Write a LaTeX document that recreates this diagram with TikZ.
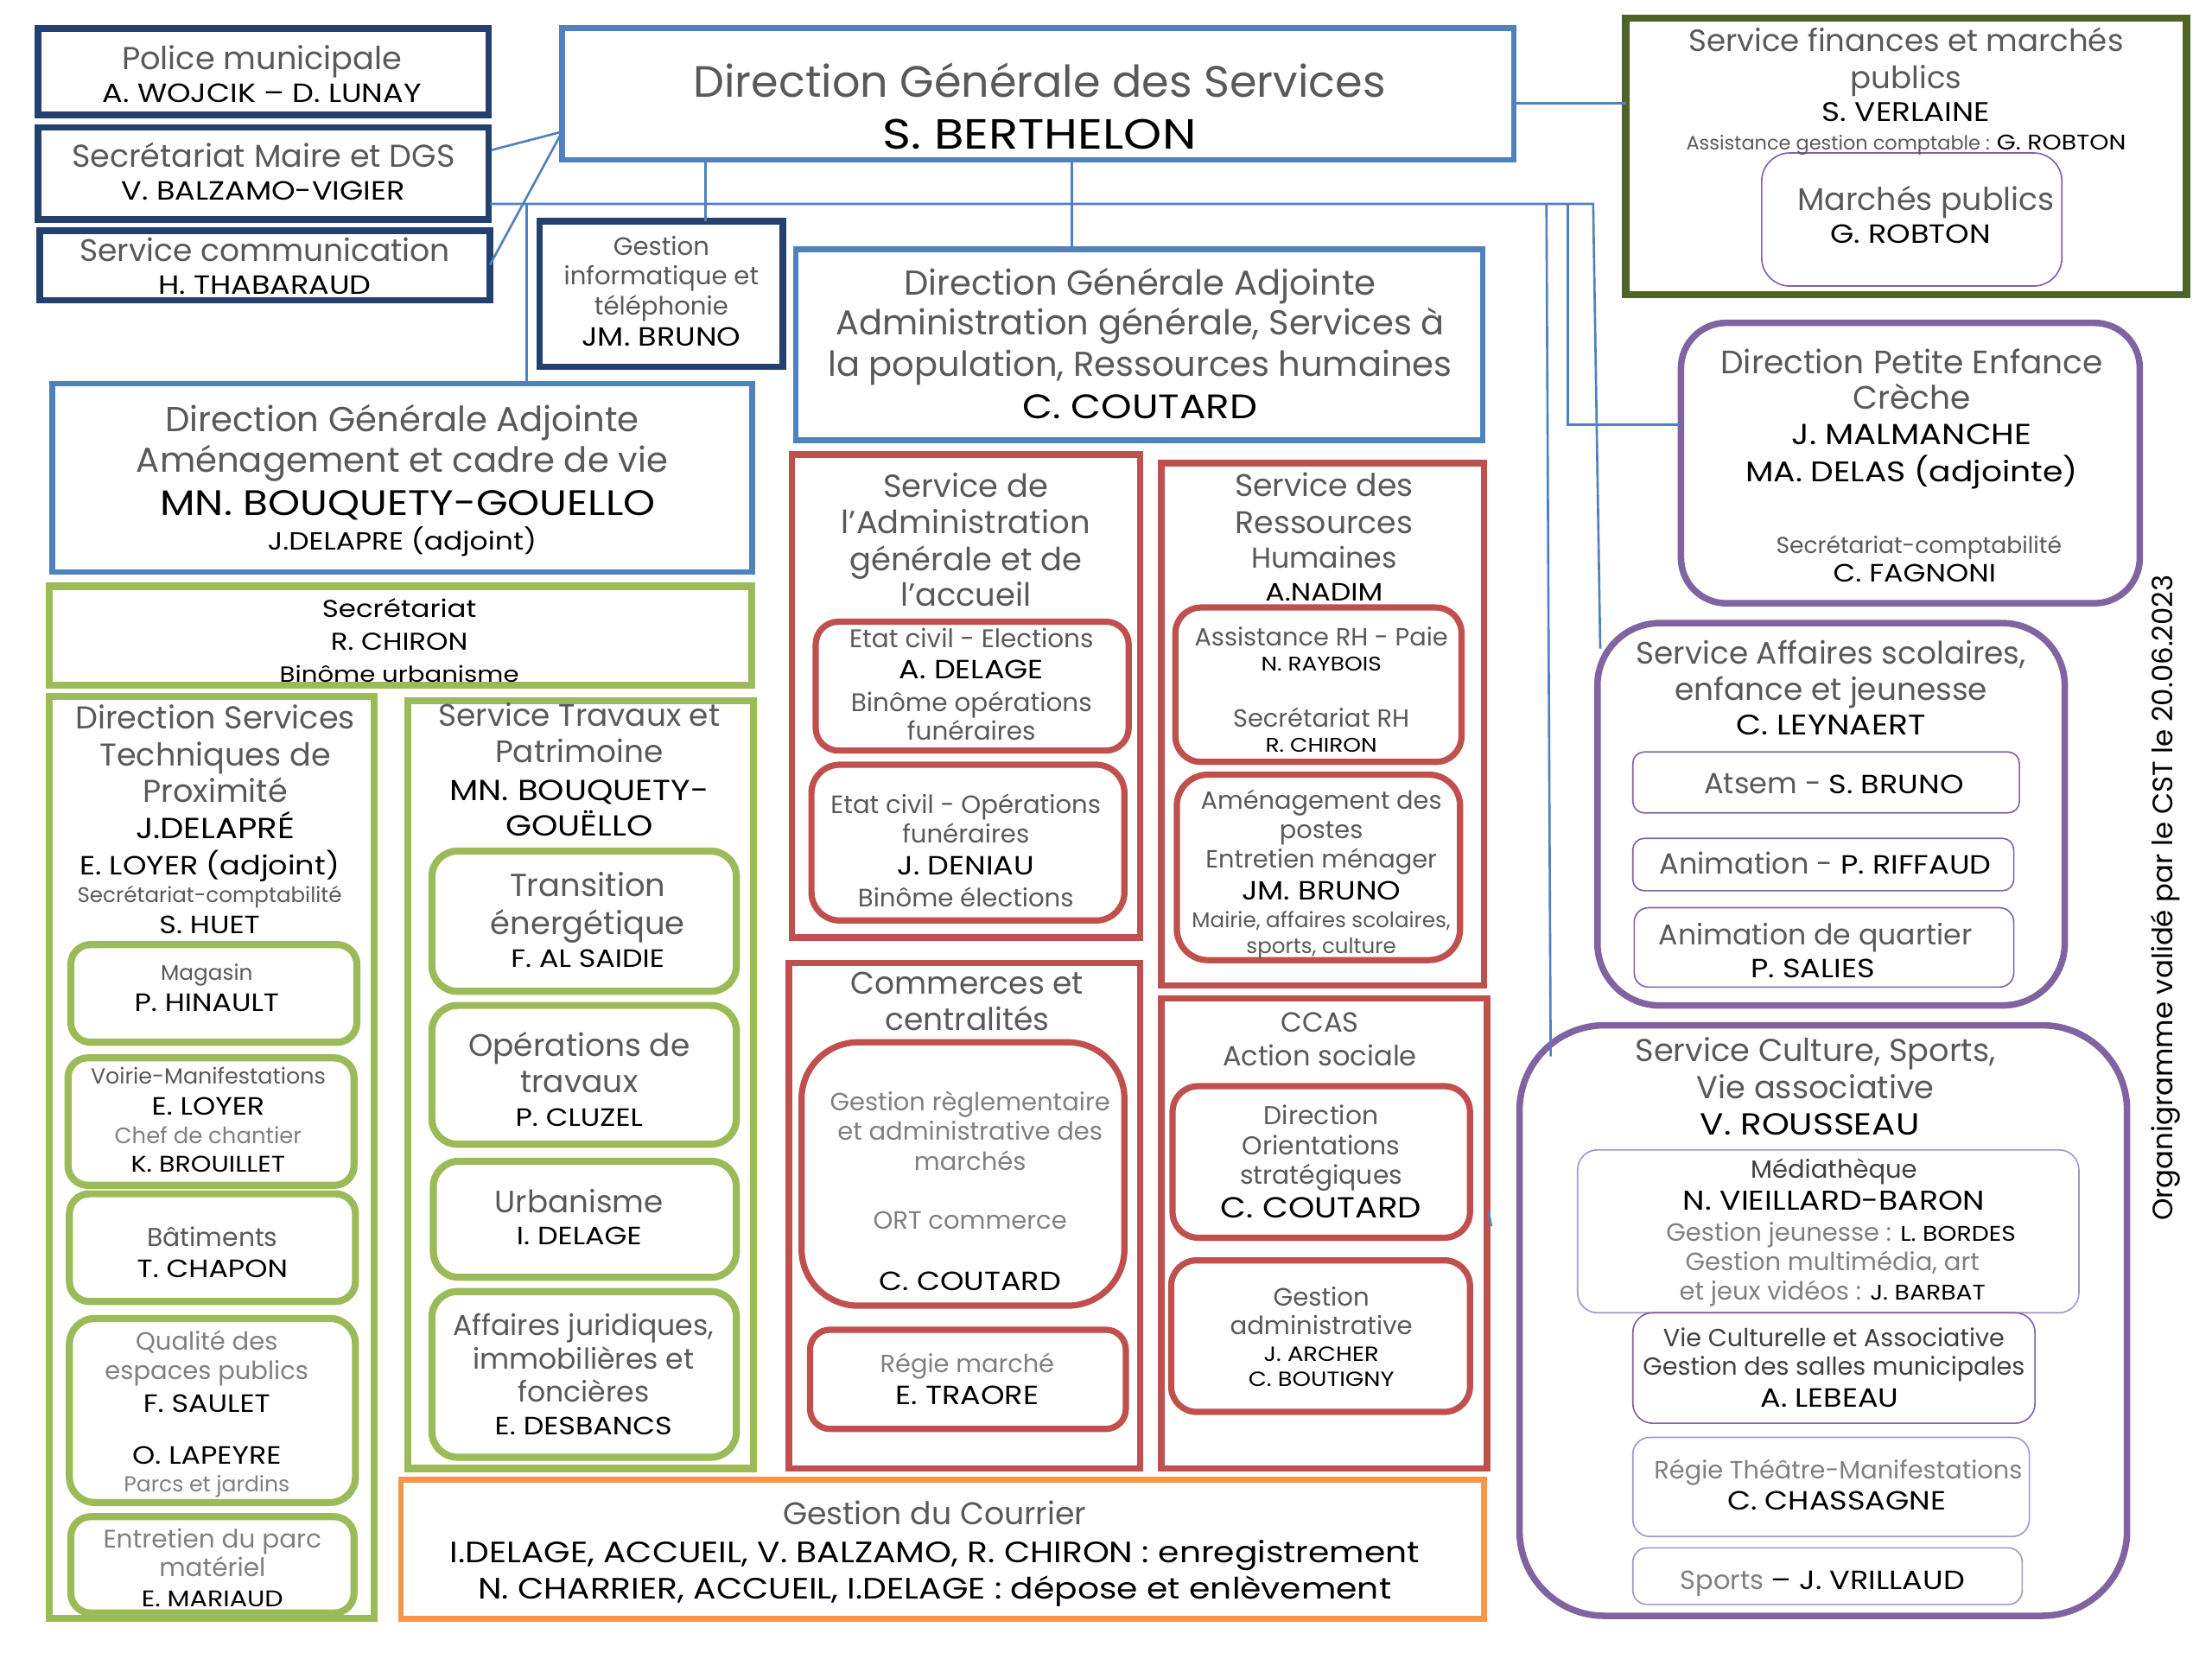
\documentclass[tikz,border=0pt]{standalone}
\usepackage{fontspec}
\setmainfont{Poppins}
\newfontfamily\nf{Poppins}[FakeStretch=1.15]
\usetikzlibrary{calc,fit}
\definecolor{navy}{HTML}{23406F}
\definecolor{lblue}{HTML}{4F81BD}
\definecolor{cred}{HTML}{C0504D}
\definecolor{cgreen}{HTML}{9BBB59}
\definecolor{dkgreen}{HTML}{4F6228}
\definecolor{cpurple}{HTML}{8064A2}
\definecolor{lpurple}{HTML}{A698C4}
\definecolor{corange}{HTML}{F79646}
\definecolor{tgrey}{HTML}{595959}
\definecolor{lgrey}{HTML}{808080}
\definecolor{dgrey}{HTML}{404040}
\newcommand\fs[1]{\fontsize{\fpeval{#1*0.5}pt}{\fpeval{#1*0.6}pt}\selectfont}
\newcommand\bx[6]{\node[#1,fit={(#3,#4)(#5,#6)}] (#2) {};}
% grey text line
\newcommand\tl[6]{\node[tline,font={\fs{#4}},text=#5] (#1) at (#2,{#3+0.35*#4}) {#6};}
% black name line
\newcommand\tn[5]{\node[tline,font={\nf\fs{#4}},text=black] (#1) at (#2,{#3+0.35*#4}) {#5};}
\newcommand\nm[2]{{\nf\fs{#1}\color{black}#2}}
\tikzset{
  bxbase/.style={inner sep=0pt,outer sep=0pt},
  navybox/.style={bxbase,draw=navy,line width=2.4pt},
  bluebox/.style={bxbase,draw=lblue,line width=2pt},
  redbox/.style={bxbase,draw=cred,line width=2.2pt},
  redrnd/.style={bxbase,draw=cred,line width=2.2pt,rounded corners=#1},
  greenbox/.style={bxbase,draw=cgreen,line width=2.5pt},
  greenrnd/.style={bxbase,draw=cgreen,line width=2.5pt,rounded corners=#1},
  finbox/.style={bxbase,draw=dkgreen,line width=2.5pt},
  purplernd/.style={bxbase,draw=cpurple,line width=2.3pt,rounded corners=#1},
  thinrnd/.style={bxbase,draw=cpurple,line width=0.5pt,rounded corners=#1},
  lthinrnd/.style={bxbase,draw=lpurple,line width=0.5pt,rounded corners=#1},
  orangebox/.style={bxbase,draw=corange,line width=2pt},
  tline/.style={anchor=base,inner sep=0pt,outer sep=0pt},
  conn/.style={draw=lblue,line width=0.8pt}
}
\begin{document}
\begin{tikzpicture}[x=0.5pt,y=-0.5pt]
\useasboundingbox[fill=white] (0,0) rectangle (1562,1171.5);
% ---------- boxes ----------
\bx{navybox}{pm}{27}{20}{345}{81}
\bx{navybox}{sm}{27}{90}{345}{155}
\bx{navybox}{sc}{28}{163}{346}{212}
\bx{bluebox}{dgs}{397}{20}{1069}{113}
\bx{navybox}{gi}{381}{156}{553}{259}
\bx{bluebox}{dga1}{37}{271}{531}{404}
\bx{bluebox}{dga2}{562}{176}{1047}{311}
\bx{finbox}{fin}{1148}{13}{1544}{208}
\bx{thinrnd=10pt}{mp}{1244}{108}{1456}{202}
\bx{purplernd=16pt}{pe}{1187}{228}{1511}{426}
\bx{purplernd=22pt}{as}{1128}{440}{1458}{710}
\bx{thinrnd=4pt}{atsem}{1153}{531}{1426}{574}
\bx{thinrnd=4pt}{anim}{1153}{592}{1422}{629}
\bx{thinrnd=5pt}{animq}{1154}{641}{1422}{697}
\bx{purplernd=30pt}{cu}{1073}{724}{1502}{1141}
\bx{lthinrnd=7pt}{med}{1114}{812}{1468}{927}
\bx{thinrnd=7pt}{vie}{1153}{927}{1437}{1005}
\bx{lthinrnd=6pt}{regie}{1153}{1015}{1433}{1085}
\bx{lthinrnd=5pt}{sports}{1153}{1093}{1428}{1133}
\bx{redbox}{sa}{559}{321}{805}{662}
\bx{redrnd=8pt}{ec1}{576}{439}{797}{530}
\bx{redrnd=10pt}{ec2}{573}{540}{794}{650}
\bx{redbox}{rh}{820}{327}{1048}{696}
\bx{redrnd=9pt}{arh}{830}{429}{1032}{538}
\bx{redrnd=11pt}{amp}{831}{547}{1031}{678}
\bx{redbox}{co}{557}{680}{805}{1037}
\bx{redrnd=20pt}{gr}{566}{736}{794}{922}
\bx{redrnd=7pt}{rm}{572}{939}{795}{1009}
\bx{redbox}{cc}{820}{705}{1050}{1037}
\bx{redrnd=9pt}{do}{828}{767}{1038}{874}
\bx{redrnd=9pt}{ga}{827}{890}{1038}{997}
\bx{orangebox}{courrier}{283}{1045}{1048}{1143}
\bx{greenbox}{sec}{35}{414}{531}{484}
\bx{greenbox}{dst}{35}{492}{264}{1143}
\bx{greenrnd=7pt}{mag}{50}{667}{252}{736}
\bx{greenrnd=7pt}{voi}{48}{747}{250}{837}
\bx{greenrnd=7pt}{bat}{49}{843}{251}{919}
\bx{greenrnd=9pt}{qual}{49}{931}{251}{1061}
\bx{greenrnd=7pt}{ent}{50}{1071}{250}{1139}
\bx{greenbox}{tr}{288}{495}{532}{1037}
\bx{greenrnd=9pt}{tra}{305}{601}{520}{700}
\bx{greenrnd=9pt}{op}{305}{710}{520}{808}
\bx{greenrnd=9pt}{urb}{306}{820}{520}{902}
\bx{greenrnd=9pt}{aj}{305}{912}{520}{1029}
% ---------- connectors ----------
\coordinate (dgsin) at ($(dgs.south west)+(0,-20)$);
\draw[conn] ($(sm.north east)+(2,16)$) -- (dgsin);
\draw[conn] ($(sc.north east)+(0,24)$) -- (dgsin);
\coordinate (busw) at ($(sm.south east)+(1,-11)$);
\coordinate (buse) at (1125,144);
\coordinate (asin) at (1130,458);
\draw[conn] (busw) -- (buse) -- (asin);
\coordinate (b1) at (372,144);
\draw[conn] (b1) -- (b1 |- dga1.north);
\coordinate (c5) at (498,113);
\draw[conn] (c5) -- (c5 |- gi.north);
\coordinate (c6) at (757,113);
\draw[conn] (c6) -- (c6 |- dga2.north);
\coordinate (c7) at (1069,73);
\draw[conn] (c7) -- (c7 -| fin.west);
\coordinate (c8) at (1092,144);
\coordinate (cuin) at (1095,746);
\draw[conn] (c8) -- (cuin);
\coordinate (c9) at (1107,144);
\coordinate (c9b) at (1107,300);
\draw[conn] (c9) -- (c9b) -- (c9b -| pe.west);
\coordinate (st1) at (1051,855);
\coordinate (st2) at (1053,866);
\draw[conn] (st1) -- (st2);
% ---------- texts ----------
\tl{pm1}{185}{41}{22.4}{tgrey}{Police municipale}
\tn{pm2}{185}{66}{18.6}{A. WOJCIK – D. LUNAY}
\tl{sm1}{186}{110}{22.3}{tgrey}{Secrétariat Maire et DGS}
\tn{sm2}{186}{135}{18.6}{V. BALZAMO-VIGIER}
\tl{sc1}{187}{177}{22}{tgrey}{Service communication}
\tn{sc2}{187}{201}{18.6}{H. THABARAUD}
\tl{d1}{734}{58}{31}{tgrey}{Direction Générale des Services}
\tn{d2}{734}{95}{29.8}{S. BERTHELON}
\tl{gi1}{467}{174}{17.8}{tgrey}{Gestion}
\tl{gi2}{467}{195}{17.8}{tgrey}{informatique et}
\tl{gi3}{467}{216}{17.8}{tgrey}{téléphonie}
\tn{gi4}{467}{238}{18.6}{JM. BRUNO}
\tl{a1}{284}{296}{24.5}{tgrey}{Direction Générale Adjointe}
\tl{a2}{284}{325}{24.5}{tgrey}{Aménagement et cadre de vie}
\tn{a3}{288}{355}{25}{MN. BOUQUETY-GOUELLO}
\tn{a4}{284}{382}{17.5}{J.DELAPRE (adjoint)}
\tl{b1t}{805}{200}{24.4}{tgrey}{Direction Générale Adjointe}
\tl{b2t}{805}{228}{24.4}{tgrey}{Administration générale, Services à}
\tl{b3t}{805}{257}{24.4}{tgrey}{la population, Ressources humaines}
\tn{b4t}{805}{287}{24}{C. COUTARD}
\tl{f1}{1346}{29}{21.7}{tgrey}{Service finances et marchés}
\tl{f2}{1346}{55}{21.7}{tgrey}{publics}
\tn{f3}{1346}{79}{19}{S. VERLAINE}
\tl{f4}{1346}{101}{13.7}{tgrey}{Assistance gestion comptable : \nm{15}{G. ROBTON}}
\tl{mp1}{1360}{141}{22.2}{tgrey}{Marchés publics}
\tn{mp2}{1349}{165}{18.6}{G. ROBTON}
\tl{pe1}{1350}{256}{22.9}{tgrey}{Direction Petite Enfance}
\tl{pe2}{1350}{281}{22.9}{tgrey}{Crèche}
\tn{pe3}{1350}{307}{20.5}{J. MALMANCHE}
\tn{pe4}{1350}{333}{20}{MA. DELAS (adjointe)}
\tl{pe5}{1355}{385}{16.2}{tgrey}{Secrétariat-comptabilité}
\tn{pe6}{1352}{405}{17.7}{C. FAGNONI}
\tl{as1}{1293}{461}{21.9}{tgrey}{Service Affaires scolaires,}
\tl{as2}{1293}{487}{21.9}{tgrey}{enfance et jeunesse}
\tn{as3}{1293}{512}{20}{C. LEYNAERT}
\tl{at1}{1295}{553}{20.5}{tgrey}{Atsem - \nm{18.6}{S. BRUNO}}
\tl{an1}{1289}{610}{20.5}{tgrey}{Animation - \nm{18.6}{P. RIFFAUD}}
\tl{q1}{1282}{660}{20.2}{tgrey}{Animation de quartier}
\tn{q2}{1280}{684}{18.6}{P. SALIES}
\tl{cu1}{1282}{742}{22.4}{tgrey}{Service Culture, Sports,}
\tl{cu2}{1282}{768}{22.4}{tgrey}{Vie associative}
\tn{cu3}{1278}{794}{21.5}{V. ROUSSEAU}
\tl{m1}{1295}{826}{17.7}{dgrey}{Médiathèque}
\tn{m2}{1295}{848}{19.2}{N. VIEILLARD-BARON}
\tl{m3}{1300}{870}{17.7}{lgrey}{Gestion jeunesse : \nm{15}{L. BORDES}}
\tl{m4}{1294}{891}{17.7}{lgrey}{Gestion multimédia, art}
\tl{m5}{1294}{912}{17.7}{lgrey}{et jeux vidéos : \nm{15}{J. BARBAT}}
\tl{v1}{1295}{945}{17.5}{dgrey}{Vie Culturelle et Associative}
\tl{v2}{1295}{965}{17.5}{dgrey}{Gestion des salles municipales}
\tn{v3}{1292}{987}{18.6}{A. LEBEAU}
\tl{r1}{1298}{1038}{17.6}{lgrey}{Régie Théâtre-Manifestations}
\tn{r2}{1297}{1060}{18.6}{C. CHASSAGNE}
\tl{s1}{1287}{1116}{18.6}{lgrey}{Sports \nm{18.6}{– J. VRILLAUD}}
\tl{sa1}{682}{343}{22.5}{tgrey}{Service de}
\tl{sa2}{682}{369}{22.5}{tgrey}{l’Administration}
\tl{sa3}{682}{395}{22.5}{tgrey}{générale et de}
\tl{sa4}{682}{420}{22.5}{tgrey}{l’accueil}
\tl{e1}{686}{451}{18}{tgrey}{Etat civil - Elections}
\tn{e2}{686}{473}{18.6}{A. DELAGE}
\tl{e3}{686}{496}{18}{tgrey}{Binôme opérations}
\tl{e4}{686}{516}{18}{tgrey}{funéraires}
\tl{o1}{682}{568}{17.8}{tgrey}{Etat civil - Opérations}
\tl{o2}{682}{589}{17.8}{tgrey}{funéraires}
\tn{o3}{682}{611}{18.6}{J. DENIAU}
\tl{o4}{682}{634}{17.8}{tgrey}{Binôme élections}
\tl{h1}{935}{343}{22.1}{tgrey}{Service des}
\tl{h2}{935}{369}{22.1}{tgrey}{Ressources}
\tl{h3}{935}{394}{20.3}{tgrey}{Humaines}
\tn{h4}{935}{418}{17.7}{A.NADIM}
\tl{ar1}{933}{450}{17.6}{tgrey}{Assistance RH - Paie}
\tn{ar2}{933}{469}{14}{N. RAYBOIS}
\tl{ar3}{933}{507}{17.6}{tgrey}{Secrétariat RH}
\tn{ar4}{933}{526}{14}{R. CHIRON}
\tl{ap1}{933}{565}{17.6}{tgrey}{Aménagement des}
\tl{ap2}{933}{586}{17.6}{tgrey}{postes}
\tl{ap3}{933}{607}{17.6}{tgrey}{Entretien ménager}
\tn{ap4}{933}{629}{18.6}{JM. BRUNO}
\tl{ap5}{933}{650}{15}{tgrey}{Mairie, affaires scolaires,}
\tl{ap6}{933}{668}{15}{tgrey}{sports, culture}
\tl{co1}{683}{694}{22}{tgrey}{Commerces et}
\tl{co2}{683}{720}{22}{tgrey}{centralités}
\tl{g1}{685}{778}{17.7}{lgrey}{Gestion règlementaire}
\tl{g2}{685}{799}{17.7}{lgrey}{et administrative des}
\tl{g3}{685}{820}{17.7}{lgrey}{marchés}
\tl{g4}{685}{862}{17.7}{lgrey}{ORT commerce}
\tn{g5}{685}{905}{18.6}{C. COUTARD}
\tl{rm1}{683}{963}{17.6}{lgrey}{Régie marché}
\tn{rm2}{683}{985}{18.6}{E. TRAORE}
\tl{cc1}{932}{722}{19.6}{tgrey}{CCAS}
\tl{cc2}{932}{746}{19.6}{tgrey}{Action sociale}
\tl{do1}{933}{788}{18.2}{tgrey}{Direction}
\tl{do2}{933}{809}{18.2}{tgrey}{Orientations}
\tl{do3}{933}{830}{18.2}{tgrey}{stratégiques}
\tn{do4}{933}{853}{20.5}{C. COUTARD}
\tl{ga1}{933}{916}{17.8}{tgrey}{Gestion}
\tl{ga2}{933}{936}{17.8}{tgrey}{administrative}
\tn{ga3}{933}{956}{14.5}{J. ARCHER}
\tn{ga4}{933}{974}{14.5}{C. BOUTIGNY}
\tl{k1}{660}{1069}{22.1}{tgrey}{Gestion du Courrier}
\tn{k2}{660}{1096}{20.8}{I.DELAGE, ACCUEIL, V. BALZAMO, R. CHIRON : enregistrement}
\tn{k3}{660}{1122}{20.8}{N. CHARRIER, ACCUEIL, I.DELAGE : dépose et enlèvement}
\tn{se1}{282}{430}{17.2}{Secrétariat}
\tn{se2}{282}{453}{17.2}{R. CHIRON}
\tn{se3}{282}{476}{15.5}{Binôme urbanisme}
\tl{t1}{152}{507}{22.3}{tgrey}{Direction Services}
\tl{t2}{152}{533}{22.3}{tgrey}{Techniques de}
\tl{t3}{152}{559}{22.3}{tgrey}{Proximité}
\tn{t4}{152}{585}{20.5}{J.DELAPRÉ}
\tn{t5}{148}{611}{18.6}{E. LOYER (adjoint)}
\tl{t6}{148}{632}{15}{tgrey}{Secrétariat-comptabilité}
\tn{t7}{148}{653}{17.7}{S. HUET}
\tl{mg1}{146}{687}{15.1}{tgrey}{Magasin}
\tn{mg2}{146}{708}{17.7}{P. HINAULT}
\tl{vo1}{147}{760}{15.5}{tgrey}{Voirie-Manifestations}
\tn{vo2}{147}{781}{17.7}{E. LOYER}
\tl{vo3}{147}{802}{15.8}{lgrey}{Chef de chantier}
\tn{vo4}{147}{822}{16}{K. BROUILLET}
\tl{bt1}{150}{874}{18.2}{tgrey}{Bâtiments}
\tn{bt2}{150}{896}{17.7}{T. CHAPON}
\tl{ql1}{146}{947}{17.7}{lgrey}{Qualité des}
\tl{ql2}{146}{968}{17.7}{lgrey}{espaces publics}
\tn{ql3}{146}{991}{17.7}{F. SAULET}
\tn{ql4}{146}{1028}{17.7}{O. LAPEYRE}
\tl{ql5}{146}{1048}{15.3}{lgrey}{Parcs et jardins}
\tl{en1}{150}{1087}{18}{lgrey}{Entretien du parc}
\tl{en2}{150}{1107}{18}{lgrey}{matériel}
\tn{en3}{150}{1129}{16}{E. MARIAUD}
\tl{tr1}{409}{505}{21.9}{tgrey}{Service Travaux et}
\tl{tr2}{409}{531}{21.9}{tgrey}{Patrimoine}
\tn{tr3}{409}{558}{20.5}{MN. BOUQUETY-}
\tn{tr4}{409}{583}{20.5}{GOUËLLO}
\tl{ta1}{415}{625}{22.5}{tgrey}{Transition}
\tl{ta2}{415}{652}{22.5}{tgrey}{énergétique}
\tn{ta3}{415}{677}{17.7}{F. AL SAIDIE}
\tl{op1}{409}{738}{22}{tgrey}{Opérations de}
\tl{op2}{409}{764}{22}{tgrey}{travaux}
\tn{op3}{409}{789}{17.7}{P. CLUZEL}
\tl{u1}{409}{849}{21.8}{tgrey}{Urbanisme}
\tn{u2}{409}{873}{17.7}{I. DELAGE}
\tl{aj1}{412}{936}{20.2}{tgrey}{Affaires juridiques,}
\tl{aj2}{412}{960}{20.2}{tgrey}{immobilières et}
\tl{aj3}{412}{983}{20.2}{tgrey}{foncières}
\tn{aj4}{412}{1007}{17.7}{E. DESBANCS}
\node[rotate=90,inner sep=0pt,font={\fs{19.8}},text=black] (valid) at (1529,634) {Organigramme validé par le CST le 20.06.2023};
\end{tikzpicture}
\end{document}
